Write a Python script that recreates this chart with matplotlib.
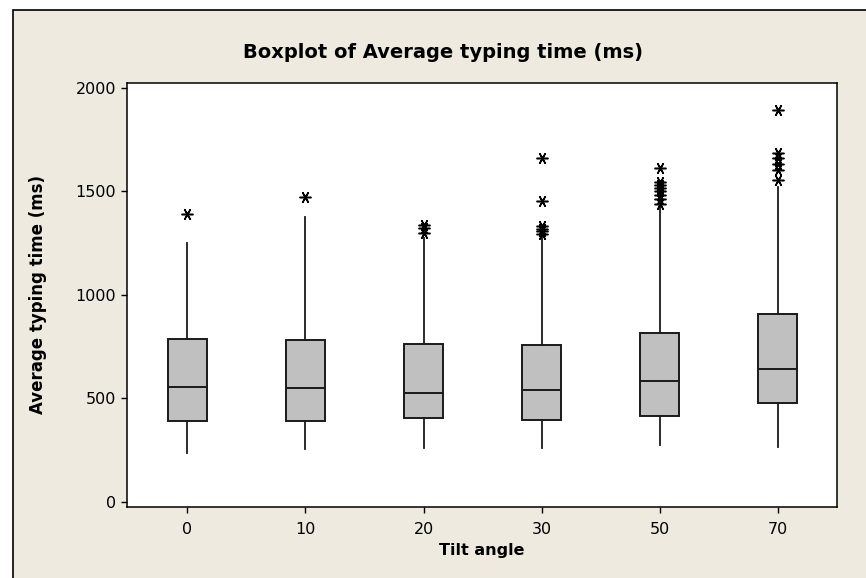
import matplotlib
matplotlib.use("Agg")
import matplotlib.pyplot as plt
from matplotlib.patches import Rectangle

# Tilt angle groups and summary statistics (ms)
angles = ["0", "10", "20", "30", "50", "70"]
q1 = [390, 390, 403, 394, 415, 475]
medians = [555, 548, 526, 541, 584, 642]
q3 = [786, 781, 760, 758, 816, 905]
whisker_low = [237, 253, 258, 258, 274, 266]
whisker_high = [1251, 1376, 1272, 1286, 1422, 1522]
outliers = [
    [1388],
    [1470],
    [1336, 1320, 1300],
    [1658, 1453, 1330, 1318, 1305, 1295],
    [1611, 1545, 1530, 1515, 1500, 1480, 1460, 1440],
    [1890, 1683, 1660, 1630, 1600, 1555],
]

plt.rcParams["font.family"] = ["DejaVu Sans"]

fig = plt.figure(figsize=(8.66, 5.78), dpi=100, facecolor="white")

# Beige panel behind the chart
panel = Rectangle((12.5 / 866, -0.05), 1.1, 1 - 10 / 578 + 0.05,
                  transform=fig.transFigure, facecolor="#EEEAE0",
                  edgecolor="black", linewidth=1.2, zorder=-5)
fig.add_artist(panel)

ax = fig.add_axes([127 / 866, 1 - 506.7 / 578, 710 / 866, (506.7 - 83) / 578])
ax.set_facecolor("white")
ax.set_zorder(1)

stats = []
for i in range(len(angles)):
    stats.append({
        "label": angles[i],
        "q1": q1[i], "med": medians[i], "q3": q3[i],
        "whislo": whisker_low[i], "whishi": whisker_high[i],
        "fliers": outliers[i],
    })

ax.bxp(stats, positions=range(1, len(angles) + 1), widths=0.33,
       patch_artist=True, showcaps=False,
       boxprops=dict(facecolor="#C0C0C0", edgecolor="#1a1a1a", linewidth=1.4),
       medianprops=dict(color="#1a1a1a", linewidth=1.4),
       whiskerprops=dict(color="#1a1a1a", linewidth=1.3),
       flierprops=dict(marker=(6, 2, 90), markersize=8.5,
                       markeredgecolor="black", markerfacecolor="none",
                       markeredgewidth=1.1, linestyle="none"))

ax.set_xlim(0.49, 6.5)
ax.set_ylim(-24, 2022)
ax.set_yticks([0, 500, 1000, 1500, 2000])
ax.set_xticks(range(1, len(angles) + 1))
ax.set_xticklabels(angles)

for side in ["top", "right", "bottom", "left"]:
    ax.spines[side].set_color("black")
    ax.spines[side].set_linewidth(1.1)

ax.tick_params(direction="out", length=4, width=1, labelsize=11.5)
ax.tick_params(axis="x", pad=7)
ax.tick_params(axis="y", pad=4)

fig.text(443 / 866, 1 - 52 / 578, "Boxplot of Average typing time (ms)",
         fontsize=14, fontweight="bold", ha="center", va="center")
ax.set_xlabel("Tilt angle", fontsize=11.5, fontweight="bold", labelpad=4)
ax.set_ylabel("Average typing time (ms)", fontsize=12, fontweight="bold",
              labelpad=20)

fig.savefig("out.png", dpi=100, facecolor=fig.get_facecolor())
